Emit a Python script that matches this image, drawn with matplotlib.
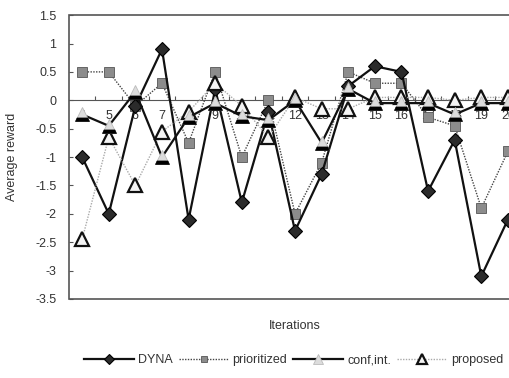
import numpy as np
import matplotlib
matplotlib.use("Agg")
import matplotlib.pyplot as plt
from matplotlib.path import Path

plt.rcParams['font.family'] = ['Liberation Sans', 'DejaVu Sans']
plt.rcParams['axes.unicode_minus'] = False

# iterations shown on the x axis
iterations = list(range(4, 21))
tick_labels = [str(i) for i in iterations]

# average reward per method
dyna = [-1.0, -2.0, -0.1, 0.9, -2.1, 0.2, -1.8, -0.2, -2.3, -1.3,
        0.25, 0.6, 0.5, -1.6, -0.7, -3.1, -2.1]
prioritized = [0.5, 0.5, -0.1, 0.3, -0.75, 0.5, -1.0, 0.0, -2.0, -1.1,
               0.5, 0.3, 0.3, -0.3, -0.45, -1.9, -0.9]
conf_int = [-0.25, -0.45, 0.15, -1.0, -0.3, -0.05, -0.28, -0.35, 0.0, -0.75,
            0.2, -0.05, -0.05, -0.05, -0.25, -0.05, -0.05]
proposed = [-2.45, -0.65, -1.5, -0.55, -0.2, 0.3, -0.1, -0.65, 0.05, -0.15,
            -0.15, 0.05, 0.05, 0.05, 0.0, 0.05, 0.05]

yticks = np.arange(-3.5, 1.51, 0.5)

fig = plt.figure(figsize=(5.1, 3.78), dpi=100)
# plot area runs past the right edge of the picture, as in the original
ax = fig.add_axes([0.135, 0.209, 0.887, 0.751])

# black base drawn under the light conf.int. triangles
base_mark = Path([(-1, -1), (1, -1), (0.775, -0.5), (-0.775, -0.5), (-1, -1)],
                 [Path.MOVETO, Path.LINETO, Path.LINETO, Path.LINETO, Path.CLOSEPOLY])

l1, = ax.plot(iterations, dyna, color='#111111', lw=1.6, marker='D', ms=7.5,
              mfc='#2b2b2b', mec='#000000', mew=0.8, label='DYNA', zorder=4)
l2, = ax.plot(iterations, prioritized, color='#444444', lw=1.0, ls=(0, (1, 1)),
              marker='s', ms=7, mfc='#8c8c8c', mec='#555555', mew=0.6,
              label='prioritized', zorder=3)
l3, = ax.plot(iterations, conf_int, color='#111111', lw=1.6, marker='^', ms=10,
              mfc='#dcdcdc', mec='#bbbbbb', mew=0.6, label='conf,int.', zorder=5)
ax.plot(iterations, conf_int, ls='none', marker=base_mark, ms=10,
        mfc='#000000', mec='#000000', mew=0.5, zorder=5.5)
l4, = ax.plot(iterations, proposed, color='#aaaaaa', lw=1.0, ls=(0, (1, 1)),
              marker='^', ms=10, mfc='#f4f4f4', mec='#111111', mew=1.6,
              label='proposed', zorder=4.5)

ax.set_xlim(3.5, 20.5)
ax.set_ylim(-3.5, 1.5)
ax.set_yticks(yticks)
ax.set_yticklabels(['%g' % v for v in yticks])

# zero line carries the category ticks and labels
ax.spines['bottom'].set_position(('data', 0))
ax.spines['bottom'].set_color('#555555')
for s in ['left', 'top', 'right']:
    ax.spines[s].set_visible(False)
ax.patch.set_edgecolor('#555555')
ax.patch.set_linewidth(1.2)
ax.set_axisbelow(True)

ax.set_xticks(np.arange(4.5, 20.5, 1))
ax.set_xticklabels([])
ax.set_xticks(iterations, tick_labels, minor=True)
ax.tick_params(axis='x', which='major', direction='in', length=3, color='#555555')
ax.tick_params(axis='x', which='minor', length=0, pad=7, labelsize=9,
               labelcolor='#333333')
ax.tick_params(axis='y', direction='in', length=3, pad=9, labelsize=9,
               labelcolor='#333333', color='#555555')

ax.set_ylabel('Average reward', fontsize=9, color='#333333')
ax.yaxis.set_label_coords(-0.112, 0.5)
ax.set_xlabel('Iterations', fontsize=9, color='#333333')
ax.xaxis.set_label_coords(0.5, -0.075)

ax.legend(handles=[l1, l2, l3, l4], loc='center', bbox_to_anchor=(0.497, -0.215),
          ncol=4, frameon=False, fontsize=9, handlelength=4.0,
          handletextpad=0.3, columnspacing=0.5, markerscale=0.7,
          labelcolor='#333333')

fig.savefig('out.png', dpi=100)
